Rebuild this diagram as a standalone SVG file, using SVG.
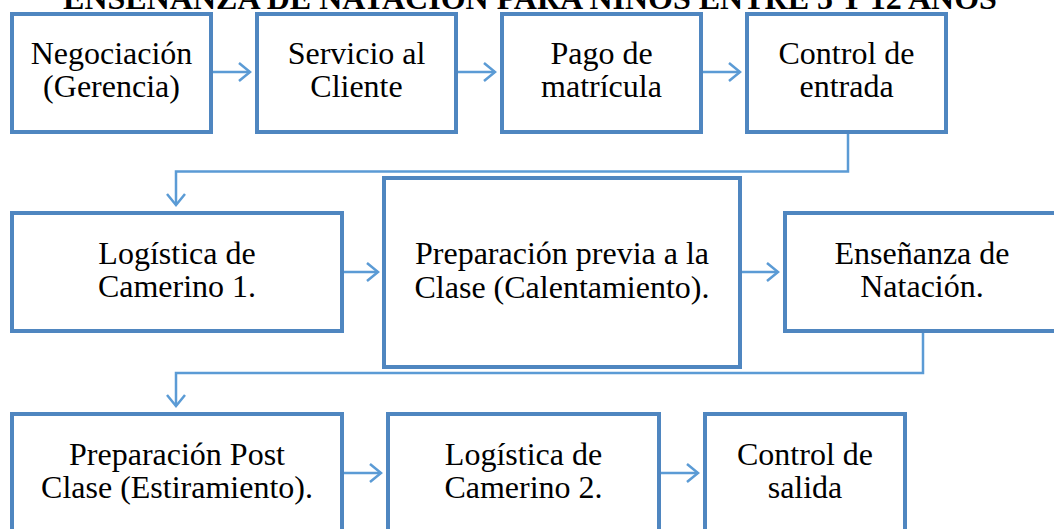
<svg xmlns="http://www.w3.org/2000/svg" width="1054" height="529" viewBox="0 0 1054 529">
<style>
.box{fill:#fff;stroke:#4F86C0;stroke-width:4}
.t{font-family:"Liberation Serif","Times New Roman",serif;font-size:32px;fill:#000;text-anchor:middle}
.title{font-family:"Liberation Serif","Times New Roman",serif;font-size:32px;font-weight:bold;fill:#000;text-anchor:middle}
.c{fill:none;stroke:#5B9BD5;stroke-width:2.5;marker-end:url(#arr)}
</style>
<defs>
<marker id="arr" markerUnits="userSpaceOnUse" viewBox="-13 -11 15 22" refX="0" refY="0" markerWidth="15" markerHeight="22" orient="auto">
<path d="M-11,-9 L0,0 L-11,9" fill="none" stroke="#5B9BD5" stroke-width="2.5"/>
</marker>
</defs>
<rect width="1054" height="529" fill="#fff"/>
<text class="title" x="530" y="9">ENSEÑANZA DE NATACIÓN PARA NIÑOS ENTRE 5 Y 12 AÑOS</text>
<g id="connectors">
<path class="c" d="M213,72 H250"/>
<path class="c" d="M458,72 H495"/>
<path class="c" d="M703,72 H740"/>
<path class="c" d="M848,134 V171.5 H176 V205"/>
<path class="c" d="M344,272 H378"/>
<path class="c" d="M742,272 H778"/>
<path class="c" d="M923,333 V373 H176 V406"/>
<path class="c" d="M344,473 H381"/>
<path class="c" d="M661,473 H698"/>
</g>
<g id="n1"><rect class="box" x="12" y="14" width="199" height="118"/><text class="t" x="111.5" y="64">Negociación</text><text class="t" x="111.5" y="97">(Gerencia)</text></g>
<g id="n2"><rect class="box" x="257" y="14" width="199" height="118"/><text class="t" x="356.5" y="64">Servicio al</text><text class="t" x="356.5" y="97">Cliente</text></g>
<g id="n3"><rect class="box" x="502" y="14" width="199" height="118"/><text class="t" x="601.5" y="64">Pago de</text><text class="t" x="601.5" y="97">matrícula</text></g>
<g id="n4"><rect class="box" x="747" y="14" width="199" height="118"/><text class="t" x="846.5" y="64">Control de</text><text class="t" x="846.5" y="97">entrada</text></g>
<g id="n5"><rect class="box" x="12" y="213" width="330" height="118"/><text class="t" x="177" y="264">Logística de</text><text class="t" x="177" y="297">Camerino 1.</text></g>
<g id="n6"><rect class="box" x="384" y="178" width="356" height="189"/><text class="t" x="562" y="264">Preparación previa a la</text><text class="t" x="562" y="298">Clase (Calentamiento).</text></g>
<g id="n7"><rect class="box" x="785" y="213" width="275" height="118"/><text class="t" x="922" y="264">Enseñanza de</text><text class="t" x="922" y="297">Natación.</text></g>
<g id="n8"><rect class="box" x="12" y="414" width="330" height="130"/><text class="t" x="177" y="465">Preparación Post</text><text class="t" x="177" y="498">Clase (Estiramiento).</text></g>
<g id="n9"><rect class="box" x="388" y="414" width="271" height="130"/><text class="t" x="523.5" y="465">Logística de</text><text class="t" x="523.5" y="498">Camerino 2.</text></g>
<g id="n10"><rect class="box" x="705" y="414" width="200" height="130"/><text class="t" x="805" y="465">Control de</text><text class="t" x="805" y="498">salida</text></g>
</svg>
